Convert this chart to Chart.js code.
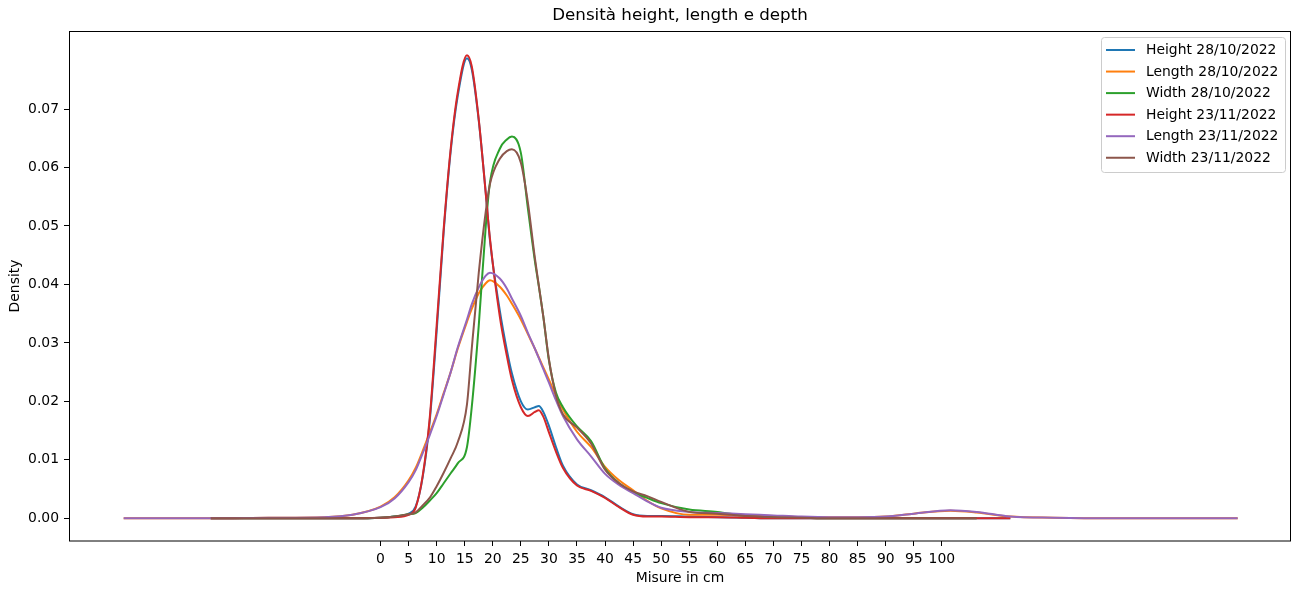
<!DOCTYPE html>
<html>
<head>
<meta charset="utf-8">
<script src="https://cdn.jsdelivr.net/npm/chart.js@4.4.0/dist/chart.umd.min.js"></script>
<style>
  html, body { margin: 0; padding: 0; background: #fff; }
</style>
</head>
<body>
<canvas id="density-chart" width="1293" height="589"></canvas>
<script>
const xs = [-45.76, -30.25, -20, -10, -5, 0, 2.5, 5, 6.25, 7.5, 8.75, 10, 11.25, 12.5, 13.75, 15.4,
  16.25, 17.5, 18.75, 19.5, 21.25, 22.5, 23.4, 25, 26.25, 27.5, 28.2, 29, 30, 31.25, 32.5, 35, 37.5,
  40, 42.5, 45, 47.5, 50, 55, 60, 65, 70, 75, 80, 85, 90, 95, 101.5, 106.2, 112.2, 120, 130, 152.7];

const height2810 = [null, 0, 0, 0, 0, 0.0001, 0.0003, 0.0008, 0.002, 0.007, 0.0165, 0.032, 0.049, 0.0628,
  0.0722, 0.0787, 0.0768, 0.068, 0.0556, 0.0475, 0.0355, 0.0288, 0.0248, 0.02, 0.0186, 0.019, 0.0192,
  0.0182, 0.0158, 0.0122, 0.009, 0.0058, 0.0048, 0.0036, 0.002, 0.0007, 0.0004, 0.0004, 0.0003, 0.0002,
  0.0001, 0, 0, 0, 0, 0, 0, 0, 0, 0, null, null, null];

const length2810 = [0, 0, 0.0001, 0.0002, 0.0006, 0.002, 0.0036, 0.0065, 0.0086, 0.0115, 0.0146, 0.0178,
  0.0214, 0.025, 0.029, 0.0336, 0.0358, 0.0385, 0.0402, 0.0407, 0.0396, 0.0381, 0.0367, 0.034, 0.0315,
  0.029, 0.0275, 0.0258, 0.0237, 0.021, 0.0186, 0.0148, 0.0122, 0.0088, 0.0065, 0.0048, 0.003, 0.0017,
  0.0006, 0.0006, 0.0005, 0.0004, 0.0002, 0.0002, 0.0002, 0.0003, 0.0008, 0.0013, 0.001, 0.0003, 0.0001,
  0, 0];

const width2810 = [null, 0, 0, 0, 0, 0.0001, 0.0003, 0.0007, 0.0009, 0.0018, 0.003, 0.0043, 0.006, 0.0077,
  0.0094, 0.0122, 0.019, 0.033, 0.05, 0.0575, 0.0632, 0.0648, 0.0653, 0.0625, 0.053, 0.044, 0.0397,
  0.0345, 0.027, 0.0215, 0.019, 0.0157, 0.0132, 0.0085, 0.006, 0.0045, 0.0035, 0.0026, 0.0015, 0.0011,
  0.0004, 0.0002, 0.0001, 0, 0, 0, 0, 0, 0, null, null, null, null];

const height2311 = [null, 0, 0, 0, 0, 0.0001, 0.0002, 0.0006, 0.0018, 0.0072, 0.017, 0.033, 0.0495, 0.0632,
  0.0728, 0.0792, 0.0773, 0.0682, 0.0555, 0.0478, 0.0345, 0.0278, 0.0237, 0.019, 0.0175, 0.0182, 0.0185,
  0.0174, 0.0147, 0.0114, 0.0086, 0.0056, 0.0047, 0.0035, 0.0019, 0.0006, 0.0003, 0.0003, 0.0002, 0.0002,
  0.0001, 0, 0, 0, 0, 0, 0, 0, 0, 0, null, null, null];

const length2311 = [0, 0, 0.0001, 0.0002, 0.0006, 0.0019, 0.0034, 0.0062, 0.0082, 0.0111, 0.0142, 0.0175,
  0.0212, 0.025, 0.0292, 0.034, 0.0366, 0.0395, 0.0415, 0.042, 0.041, 0.0393, 0.0376, 0.0346, 0.0317,
  0.029, 0.0274, 0.0255, 0.0232, 0.0202, 0.0175, 0.0135, 0.0106, 0.0076, 0.0057, 0.0043, 0.0029, 0.0018,
  0.0011, 0.0009, 0.0007, 0.0005, 0.0003, 0.0002, 0.0002, 0.0003, 0.0008, 0.0014, 0.0011, 0.0003, 0.0001,
  0, 0];

const width2311 = [null, 0, 0, 0, 0, 0.0001, 0.0003, 0.0007, 0.001, 0.0022, 0.0035, 0.0055, 0.0078, 0.0103,
  0.013, 0.0195, 0.029, 0.042, 0.0525, 0.0572, 0.0615, 0.0628, 0.0631, 0.0608, 0.054, 0.0445, 0.0398,
  0.0345, 0.0272, 0.021, 0.0178, 0.0155, 0.0128, 0.0083, 0.006, 0.0046, 0.0038, 0.0028, 0.0011, 0.0008,
  0.0004, 0.0002, 0.0001, 0, 0, 0, 0, 0, 0, null, null, null, null];

const seriesLabels = ["Height 28/10/2022", "Length 28/10/2022", "Width 28/10/2022",
  "Height 23/11/2022", "Length 23/11/2022", "Width 23/11/2022"];
const seriesValues = [height2810, length2810, width2810, height2311, length2311, width2311];
const colors = ["#1f77b4", "#ff7f0e", "#2ca02c", "#d62728", "#9467bd", "#8c564b"];

const xTicks = [0, 5, 10, 15, 20, 25, 30, 35, 40, 45, 50, 55, 60, 65, 70, 75, 80, 85, 90, 95, 100];
const yTicks = [0, 0.01, 0.02, 0.03, 0.04, 0.05, 0.06, 0.07];

const chartTitle = "Densità height, length e depth";
const FONT = '"DejaVu Sans", sans-serif';

// frame on all four sides, title over the plot area, legend box in the upper right
const mplPlugin = {
  id: "mplPlugin",
  afterDraw(chart) {
    const { ctx, chartArea: a } = chart;
    ctx.save();
    ctx.strokeStyle = "#000";
    ctx.lineWidth = 1;
    ctx.strokeRect(69.5, 31.5, 1221, 509.5);

    ctx.fillStyle = "#000";
    ctx.font = "16.7px " + FONT;
    ctx.textAlign = "center";
    ctx.textBaseline = "middle";
    ctx.fillText(chartTitle, (a.left + a.right) / 2, 16);

    // legend
    ctx.beginPath();
    ctx.roundRect(1101.5, 37.5, 184, 135, 3);
    ctx.fillStyle = "rgba(255,255,255,0.8)";
    ctx.fill();
    ctx.strokeStyle = "#cccccc";
    ctx.stroke();
    ctx.font = "13.9px " + FONT;
    ctx.textAlign = "left";
    seriesLabels.forEach((label, i) => {
      const y = 50 + i * 21.55;
      ctx.strokeStyle = colors[i];
      ctx.lineWidth = 2;
      ctx.beginPath();
      ctx.moveTo(1106, y);
      ctx.lineTo(1135, y);
      ctx.stroke();
      ctx.fillStyle = "#000";
      ctx.fillText(label, 1146, y + 0.5);
    });
    ctx.restore();
  }
};

new Chart(document.getElementById("density-chart"), {
  type: "line",
  data: {
    datasets: seriesValues.map((vals, i) => ({
      label: seriesLabels[i],
      data: xs.map((x, j) => ({ x: x, y: vals[j] })).filter(p => p.y !== null),
      borderColor: colors[i],
      backgroundColor: colors[i],
      borderWidth: 2,
      pointRadius: 0,
      fill: false,
      cubicInterpolationMode: "monotone",
      order: 5 - i
    }))
  },
  options: {
    responsive: false,
    animation: false,
    layout: { padding: { top: 31, right: 2, left: 0, bottom: 0 } },
    plugins: {
      legend: { display: false },
      title: { display: false },
      tooltip: { enabled: false }
    },
    scales: {
      x: {
        type: "linear",
        min: -55.5,
        max: 162.2,
        afterBuildTicks: s => { s.ticks = xTicks.map(v => ({ value: v })); },
        afterFit: s => { s.height = 48; },
        grid: { display: true, drawOnChartArea: false, drawTicks: true, tickLength: 5, color: "#000" },
        border: { display: false },
        ticks: {
          color: "#000", font: { family: FONT, size: 13.9 }, padding: 5,
          autoSkip: false, maxRotation: 0, callback: v => String(v)
        },
        title: {
          display: true, text: "Misure in cm", color: "#000",
          font: { family: FONT, size: 13.9 }, padding: { top: 0, bottom: 2 }
        }
      },
      y: {
        min: -0.00388,
        max: 0.08334,
        afterBuildTicks: s => { s.ticks = yTicks.map(v => ({ value: v })); },
        afterFit: s => { s.width = 69; },
        grid: { display: true, drawOnChartArea: false, drawTicks: true, tickLength: 5, color: "#000" },
        border: { display: false },
        ticks: {
          color: "#000", font: { family: FONT, size: 13.9 }, padding: 5,
          callback: v => v.toFixed(2)
        },
        title: {
          display: true, text: "Density", color: "#000",
          font: { family: FONT, size: 13.9 }, padding: { top: 7, bottom: 0 }
        }
      }
    }
  },
  plugins: [mplPlugin]
});
</script>
</body>
</html>
